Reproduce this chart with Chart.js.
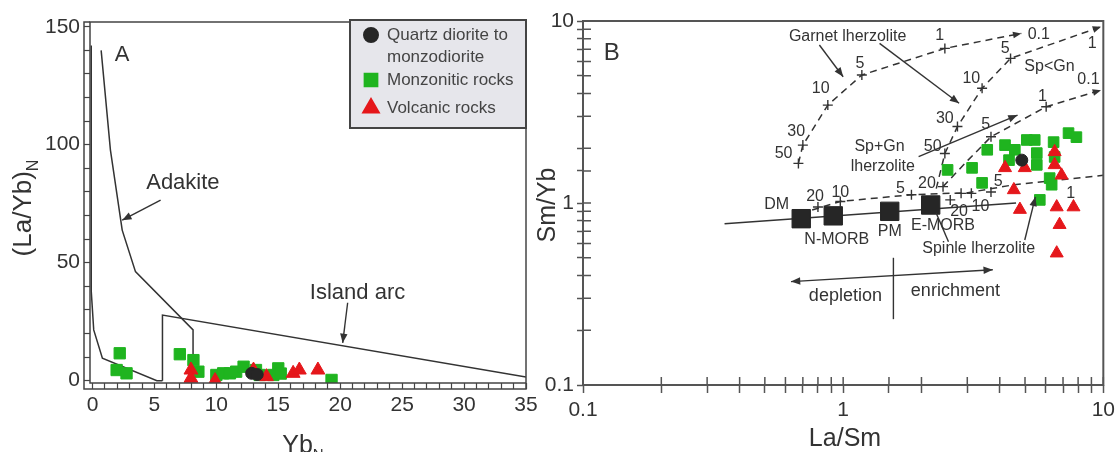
<!DOCTYPE html>
<html>
<head>
<meta charset="utf-8">
<script src="https://cdn.jsdelivr.net/npm/chart.js@4.4.1/dist/chart.umd.min.js"></script>
<style>
  body { margin: 0; background: #fff; }
  #wrap { position: relative; width: 1120px; height: 452px; overflow: hidden; }
  canvas { position: absolute; top: 0; }
</style>
</head>
<body>
<div id="wrap">
  <canvas id="chartA" width="545" height="452" style="left:0"></canvas>
  <canvas id="chartB" width="592" height="452" style="left:528px"></canvas>
</div>
<script>
// ---- Panel A : (La/Yb)N vs YbN ----
const monzA_x = [2.2, 1.95, 2.75, 7.05, 8.15, 8.55, 10.0, 10.55, 11.1, 11.6, 12.2, 13.2, 13.5, 14.6, 15.0, 15.2, 19.3];
const monzA_y = [11.6, 4.5, 3.1, 11.2, 8.7, 3.8, 2.4, 3.1, 3.1, 3.8, 5.9, 4.5, 2.4, 2.4, 5.2, 3.0, 0.3];
const volcA_x = [7.95, 7.95, 9.9, 13.0, 14.05, 16.2, 16.7, 18.2];
const volcA_y = [4.5, 1.0, 0.0, 4.5, 1.7, 3.1, 4.5, 4.5];
const qdA_x = [12.85, 13.3];
const qdA_y = [3.1, 2.6];

// field boundaries
const adakLo_x = [-0.1, -0.1, 0.1, 0.8, 5.2, 5.65];
const adakLo_y = [142, 38, 21.5, 9.5, 0, 0];
const adakHi_x = [0.7, 1.45, 2.4, 3.47, 8.12, 8.12];
const adakHi_y = [140, 97.7, 63.8, 46.2, 21.5, 0];
const arc_x = [5.65, 5.65, 35];
const arc_y = [0, 27.8, 1.5];

// ---- Panel B : Sm/Yb vs La/Sm ----
const monzB_x = [3.58, 4.19, 4.57, 5.08, 5.45, 5.55, 6.44, 7.35, 7.88, 4.34, 5.55, 6.50, 3.13, 2.52, 3.42, 6.22, 6.33, 5.70];
const monzB_y = [1.96, 2.08, 1.96, 2.22, 2.22, 1.88, 2.16, 2.42, 2.30, 1.72, 1.62, 1.79, 1.56, 1.52, 1.29, 1.37, 1.26, 1.04];
const volcB_x = [4.19, 4.99, 6.5, 6.5, 6.91, 4.53, 4.78, 6.62, 7.68, 6.79, 6.62];
const volcB_y = [1.56, 1.56, 1.62, 1.91, 1.42, 1.18, 0.92, 0.95, 0.95, 0.76, 0.53];
const qdB_x = [4.86];
const qdB_y = [1.72];
const refNames = ['DM', 'N-MORB', 'PM', 'E-MORB'];
const ref_x = [0.69, 0.916, 1.51, 2.17];
const ref_y = [0.82, 0.85, 0.90, 0.975];

// melting curves
const garnet_x = [0.673, 0.70, 0.873, 1.18, 2.46, 4.84];
const garnet_y = [1.65, 2.08, 3.45, 5.05, 7.07, 8.55];
const spLtGn_x = [2.28, 2.46, 2.75, 3.42, 4.40, 9.8];
const spLtGn_y = [1.20, 1.87, 2.63, 4.27, 6.23, 9.3];
const spGn_x = [2.42, 3.02, 3.70, 6.03, 9.8];
const spGn_y = [1.23, 1.72, 2.31, 3.38, 4.17];
const spinel_x = [0.76, 0.975, 1.83, 3.02, 4.54, 10];
const spinel_y = [0.915, 1.02, 1.11, 1.14, 1.26, 1.42];
const mantle_x = [0.35, 4.62];
const mantle_y = [0.77, 1.0];
const cross_x = [0.673, 0.70, 0.873, 1.18, 2.46, 2.46, 2.75, 3.42, 4.40, 3.70, 6.03, 0.80, 0.975, 1.83, 2.58, 2.84, 3.11, 3.70, 2.42];
const cross_y = [1.65, 2.08, 3.45, 5.05, 7.07, 1.87, 2.63, 4.27, 6.23, 2.31, 3.38, 0.95, 1.02, 1.11, 1.04, 1.13, 1.13, 1.15, 1.23];

const FONT = "'Liberation Sans', Arial, sans-serif";
const INK = '#333';
const GREEN = '#1fb41f';
const RED = '#e5171b';
const DARK = '#262626';

const pts = (xs, ys) => xs.map((x, i) => ({ x, y: ys[i] }));

function arrowHead(ctx, x1, y1, x2, y2, size) {
  const ang = Math.atan2(y2 - y1, x2 - x1);
  ctx.beginPath();
  ctx.moveTo(x2, y2);
  ctx.lineTo(x2 - size * Math.cos(ang - 0.38), y2 - size * Math.sin(ang - 0.38));
  ctx.lineTo(x2 - size * Math.cos(ang + 0.38), y2 - size * Math.sin(ang + 0.38));
  ctx.closePath();
  ctx.fill();
}

// text with a subscript, centred on (cx, cy)
function subText(ctx, main, sub, cx, cy, rot, size) {
  ctx.save();
  ctx.translate(cx, cy);
  ctx.rotate(rot);
  ctx.font = `${size}px ${FONT}`;
  const w1 = ctx.measureText(main).width;
  ctx.font = `${Math.round(size * 0.6)}px ${FONT}`;
  const w2 = sub ? ctx.measureText(sub).width : 0;
  const x0 = -(w1 + w2) / 2;
  ctx.textAlign = 'left';
  ctx.textBaseline = 'middle';
  ctx.font = `${size}px ${FONT}`;
  ctx.fillText(main, x0, 0);
  if (sub) {
    ctx.font = `${Math.round(size * 0.6)}px ${FONT}`;
    ctx.fillText(sub, x0 + w1, size * 0.35);
  }
  ctx.restore();
}

// frame, extra ticks, arrows, labels, titles, legend
const overlay = {
  id: 'overlay',
  afterDraw(chart, args, o) {
    const { ctx, chartArea: a } = chart;
    const sx = chart.scales.x, sy = chart.scales.y;
    const X = v => sx.getPixelForValue(v), Y = v => sy.getPixelForValue(v);
    ctx.save();
    ctx.strokeStyle = o.frameColor;
    ctx.lineWidth = o.frameWidth;
    ctx.strokeRect(a.left, a.top, a.right - a.left, a.bottom - a.top);
    if (o.ruler) {
      const r = o.ruler;
      ctx.beginPath();
      ctx.moveTo(a.left, a.top); ctx.lineTo(a.left - r, a.top);
      ctx.lineTo(a.left - r, a.bottom + r); ctx.lineTo(a.right, a.bottom + r);
      ctx.lineTo(a.right, a.bottom);
      ctx.stroke();
    }
    if (o.inTicks) {
      ctx.lineWidth = 1.5;
      ctx.beginPath();
      sx.ticks.forEach(t => { const p = X(t.value); ctx.moveTo(p, a.bottom); ctx.lineTo(p, a.bottom - o.inTicks); });
      sy.ticks.forEach(t => { const p = Y(t.value); ctx.moveTo(a.left, p); ctx.lineTo(a.left + o.inTicks, p); });
      ctx.stroke();
    }

    ctx.fillStyle = INK;
    ctx.strokeStyle = INK;
    ctx.lineWidth = 1.4;
    o.arrows.forEach(ar => {
      const [x1, y1] = ar.from, [x2, y2] = ar.to;
      const p1 = [X(x1), Y(y1)], p2 = [X(x2), Y(y2)];
      ctx.beginPath();
      ctx.moveTo(p1[0], p1[1]);
      ctx.lineTo(p2[0], p2[1]);
      ctx.stroke();
      if (ar.head >= 1) arrowHead(ctx, p1[0], p1[1], p2[0], p2[1], 10);
      if (ar.head === 2) arrowHead(ctx, p2[0], p2[1], p1[0], p1[1], 10);
    });
    chart.data.datasets.forEach(ds => {
      if (!ds.arrowEnd) return;
      const n = ds.data.length, p = ds.data[n - 2], q = ds.data[n - 1];
      arrowHead(ctx, X(p.x), Y(p.y), X(q.x), Y(q.y), 9);
    });

    ctx.textAlign = 'center';
    ctx.textBaseline = 'middle';
    o.labels.forEach(([t, x, y, s]) => {
      ctx.font = `${s}px ${FONT}`;
      ctx.fillText(t, X(x), Y(y));
    });
    o.titles.forEach(t => subText(ctx, t.main, t.sub, t.cx, t.cy, t.rot, t.size));

    if (o.legend) {
      const L = o.legend;
      const lx = a.right - L.w, ly = a.top - 2;
      ctx.fillStyle = '#e6e6eb';
      ctx.fillRect(lx, ly, L.w, L.h);
      ctx.strokeStyle = '#444';
      ctx.lineWidth = 2;
      ctx.strokeRect(lx, ly, L.w, L.h);
      ctx.textAlign = 'left';
      ctx.font = `17px ${FONT}`;
      L.items.forEach(it => {
        ctx.fillStyle = it.color;
        ctx.strokeStyle = it.color;
        Chart.helpers.drawPoint(ctx, { pointStyle: it.style, radius: it.r, rotation: 0, borderWidth: 1 }, lx + 21, ly + it.dy);
        ctx.fillStyle = '#444';
        it.lines.forEach((ln, k) => ctx.fillText(ln, lx + 37, ly + it.dy + k * 22));
      });
    }
    ctx.restore();
  }
};

const tickFont = { family: FONT, size: 21 };
const lineDs = (xs, ys, extra) => Object.assign({
  data: pts(xs, ys), showLine: true, pointRadius: 0, borderColor: INK,
  borderWidth: 1.5, fill: false, tension: 0, order: 5
}, extra);
const isDecade = v => Math.abs(Math.log10(v) - Math.round(Math.log10(v))) < 1e-9;

// ---- chart A ----
new Chart(document.getElementById('chartA'), {
  type: 'scatter',
  data: {
    datasets: [
      { label: 'Quartz diorite to monzodiorite', data: pts(qdA_x, qdA_y), pointStyle: 'circle', pointRadius: 6,
        pointBackgroundColor: DARK, pointBorderColor: DARK, order: 0 },
      { label: 'Volcanic rocks', data: pts(volcA_x, volcA_y), pointStyle: 'triangle', pointRadius: 8,
        pointBackgroundColor: RED, pointBorderColor: RED, order: 1 },
      { label: 'Monzonitic rocks', data: pts(monzA_x, monzA_y), pointStyle: 'rect', pointRadius: 8,
        pointBackgroundColor: GREEN, pointBorderColor: GREEN, order: 2 },
      lineDs(adakLo_x, adakLo_y),
      lineDs(adakHi_x, adakHi_y),
      lineDs(arc_x, arc_y)
    ]
  },
  options: {
    responsive: false, animation: false, events: [],
    layout: { padding: { left: 0, right: 19, top: 22, bottom: 0 } },
    plugins: {
      legend: { display: false }, tooltip: { enabled: false },
      overlay: {
        frameColor: '#444', frameWidth: 1.5, ruler: 6,
        arrows: [
          { from: [5.5, 76.5], to: [2.4, 68], head: 1 },
          { from: [20.6, 33], to: [20.2, 16], head: 1 }
        ],
        labels: [['A', 2.4, 138, 22], ['Adakite', 7.3, 84, 22], ['Island arc', 21.4, 37, 22]],
        titles: [
          { main: '(La/Yb)', sub: 'N', cx: 24, cy: 208, rot: -Math.PI / 2, size: 26 },
          { main: 'Yb', sub: 'N', cx: 303, cy: 446, rot: 0, size: 25 }
        ],
        legend: {
          w: 176, h: 108,
          items: [
            { style: 'circle', color: DARK, r: 7, dy: 15, lines: ['Quartz diorite to', 'monzodiorite'] },
            { style: 'rect', color: GREEN, r: 9, dy: 60, lines: ['Monzonitic rocks'] },
            { style: 'triangle', color: RED, r: 9, dy: 88, lines: ['Volcanic rocks'] }
          ]
        }
      }
    },
    scales: {
      x: {
        type: 'linear', min: -0.2, max: 35,
        afterFit: s => { s.height = 69; },
        border: { display: false },
        grid: { drawOnChartArea: false, tickLength: 6, tickColor: '#444', tickWidth: 1.2 },
        ticks: { stepSize: 1, autoSkip: false, maxRotation: 0, includeBounds: false, padding: 4,
          color: INK, font: tickFont, callback: v => (v % 5 === 0 ? v : '') }
      },
      y: {
        type: 'linear', min: -1, max: 152,
        afterFit: s => { s.width = 90; },
        border: { display: false },
        grid: { drawOnChartArea: false, tickLength: 6, tickColor: '#444', tickWidth: 1.2 },
        ticks: { stepSize: 10, autoSkip: false, includeBounds: false, padding: 4,
          color: INK, font: tickFont, callback: v => (v % 50 === 0 ? v : '') }
      }
    }
  },
  plugins: [overlay]
});

// ---- chart B ----
new Chart(document.getElementById('chartB'), {
  type: 'scatter',
  data: {
    datasets: [
      { label: 'Quartz diorite to monzodiorite', data: pts(qdB_x, qdB_y), pointStyle: 'circle', pointRadius: 6,
        pointBackgroundColor: DARK, pointBorderColor: DARK, order: 0 },
      { label: 'Volcanic rocks', data: pts(volcB_x, volcB_y), pointStyle: 'triangle', pointRadius: 7.5,
        pointBackgroundColor: RED, pointBorderColor: RED, order: 1 },
      { label: 'Monzonitic rocks', data: pts(monzB_x, monzB_y), pointStyle: 'rect', pointRadius: 7.5,
        pointBackgroundColor: GREEN, pointBorderColor: GREEN, order: 2 },
      { label: 'Reference', data: pts(ref_x, ref_y), pointStyle: 'rect', pointRadius: 13,
        pointBackgroundColor: DARK, pointBorderColor: DARK, order: 3 },
      { label: 'F marks', data: pts(cross_x, cross_y), pointStyle: 'cross', pointRadius: 5,
        pointBorderColor: INK, pointBorderWidth: 1.4, order: 4 },
      lineDs(garnet_x, garnet_y, { borderDash: [7, 5], arrowEnd: true }),
      lineDs(spLtGn_x, spLtGn_y, { borderDash: [7, 5], arrowEnd: true }),
      lineDs(spGn_x, spGn_y, { borderDash: [7, 5], arrowEnd: true }),
      lineDs(spinel_x, spinel_y, { borderDash: [7, 5] }),
      lineDs(mantle_x, mantle_y)
    ]
  },
  options: {
    responsive: false, animation: false, events: [],
    layout: { padding: { left: 0, right: 13, top: 21, bottom: 0 } },
    plugins: {
      legend: { display: false }, tooltip: { enabled: false },
      overlay: {
        frameColor: '#555', frameWidth: 2, inTicks: 8,
        arrows: [
          { from: [0.81, 7.38], to: [1.0, 4.94], head: 1 },
          { from: [1.38, 7.54], to: [2.79, 3.53], head: 1 },
          { from: [1.95, 1.80], to: [4.68, 3.04], head: 1 },
          { from: [4.99, 0.626], to: [5.48, 1.08], head: 1 },
          { from: [2.28, 0.878], to: [2.54, 0.613], head: 0 },
          { from: [0.63, 0.37], to: [3.76, 0.43], head: 2 },
          { from: [1.56, 0.50], to: [1.56, 0.23], head: 0 }
        ],
        labels: [
          ['B', 0.129, 6.6, 24],
          ['Garnet lherzolite', 1.04, 8.2, 16],
          ['1', 2.35, 8.27, 16], ['0.1', 5.65, 8.37, 16], ['1', 9.06, 7.54, 16],
          ['5', 4.2, 7.08, 16], ['Sp<Gn', 6.21, 5.61, 16], ['0.1', 8.77, 4.74, 16],
          ['10', 3.11, 4.84, 16], ['5', 1.16, 5.86, 16], ['10', 0.82, 4.27, 16],
          ['30', 0.66, 2.46, 16], ['50', 0.59, 1.87, 16], ['1', 5.84, 3.84, 16],
          ['30', 2.46, 2.92, 16], ['5', 3.53, 2.68, 16],
          ['Sp+Gn', 1.38, 2.04, 16], ['lherzolite', 1.42, 1.58, 16], ['50', 2.21, 2.04, 16],
          [refNames[0], 0.555, 0.975, 16], ['20', 0.78, 1.08, 16], ['10', 0.975, 1.14, 16],
          ['5', 1.66, 1.2, 16], ['20', 2.10, 1.28, 16], ['5', 3.94, 1.31, 16],
          ['20', 2.79, 0.90, 16], ['10', 3.37, 0.955, 16], ['1', 7.5, 1.13, 16],
          [refNames[1], 0.945, 0.626, 16], [refNames[2], 1.51, 0.695, 16], [refNames[3], 2.42, 0.748, 16],
          ['Spinle lherzolite', 3.32, 0.564, 16],
          ['depletion', 1.02, 0.31, 18], ['enrichment', 2.70, 0.33, 18]
        ],
        titles: [
          { main: 'Sm/Yb', sub: '', cx: 20, cy: 205, rot: -Math.PI / 2, size: 25 },
          { main: 'La/Sm', sub: '', cx: 317, cy: 439, rot: 0, size: 25 }
        ]
      }
    },
    scales: {
      x: {
        type: 'logarithmic', min: 0.1, max: 10,
        afterFit: s => { s.height = 67; },
        border: { display: false },
        grid: { drawOnChartArea: false, tickLength: 8, tickColor: '#555', tickWidth: 1.5 },
        ticks: { autoSkip: false, maxRotation: 0, padding: 5, color: INK, font: tickFont,
          callback: v => (isDecade(v) ? String(v) : '') }
      },
      y: {
        type: 'logarithmic', min: 0.1, max: 10,
        afterFit: s => { s.width = 55; },
        border: { display: false },
        grid: { drawOnChartArea: false, tickLength: 6, tickColor: '#555', tickWidth: 1.5 },
        ticks: { autoSkip: false, padding: 3, color: INK, font: tickFont,
          callback: v => (isDecade(v) ? String(v) : '') }
      }
    }
  },
  plugins: [overlay]
});
</script>
</body>
</html>
